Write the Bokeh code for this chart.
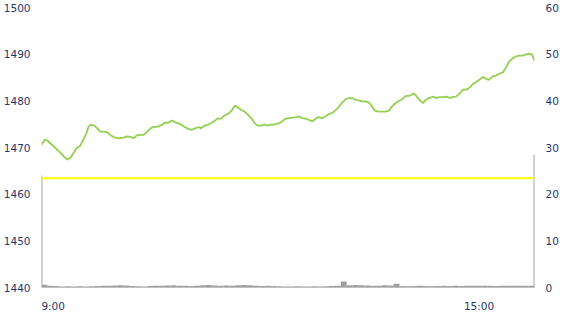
from bokeh.plotting import figure
from bokeh.models import Range1d, LinearAxis, FixedTicker, Span
from bokeh.embed import file_html
from bokeh.resources import INLINE

# ---- data (minutes after 9:00) ----
price_minutes = [
    0, 3, 5, 8, 11, 14, 17, 19, 22, 25, 27, 30, 33, 36, 38, 40, 42, 45, 48, 50, 53, 56, 59, 62, 64, 67, 70, 73, 76, 79, 81, 84, 87, 90, 93, 95, 98, 101,
    103, 105, 108, 111, 114, 117, 119, 122, 125, 128, 131, 134, 136, 139, 142, 145, 148, 150, 153, 156, 159, 162, 165, 167, 170, 173, 176, 179, 181, 184, 187, 190, 193, 195, 198, 201, 204, 208,
    211, 214, 217, 219, 222, 225, 228, 231, 234, 236, 239, 242, 245, 248, 250, 253, 256, 259, 262, 265, 267, 270, 273, 276, 279, 281, 284, 287, 290, 293, 296, 298, 301, 304, 307, 310,
    314, 317, 319, 322, 325, 327, 330, 334, 336, 339, 342, 345, 348, 350, 353, 356, 359, 362, 365, 367, 370, 373, 376, 379, 381, 384, 387, 390, 393, 396, 398, 401, 404, 407, 410, 412, 415, 418, 420,
]
prices = [
    1470.6, 1471.7, 1471.5, 1470.8, 1470.1, 1469.4, 1468.7, 1468.1, 1467.4, 1467.9, 1468.7, 1469.9, 1470.4, 1471.9, 1472.9, 1474.4, 1474.9, 1474.7, 1474.0, 1473.4,
    1473.4, 1473.3, 1472.6, 1472.2, 1472.0, 1472.0, 1472.1, 1472.4, 1472.2, 1472.0, 1472.6, 1472.7, 1472.7, 1473.4, 1474.1, 1474.4, 1474.4, 1474.7,
    1474.9, 1475.3, 1475.3, 1475.8, 1475.4, 1475.1, 1474.9, 1474.4, 1474.0, 1473.8, 1474.1, 1474.4, 1474.1, 1474.7, 1474.9, 1475.3, 1475.8, 1476.2, 1476.2, 1476.9,
    1477.2, 1477.9, 1479.0, 1478.6, 1478.1, 1477.7, 1477.0, 1476.2, 1475.4, 1474.7, 1474.7, 1474.9, 1474.7, 1474.9, 1474.9, 1475.1, 1475.4, 1476.2,
    1476.3, 1476.4, 1476.5, 1476.7, 1476.3, 1476.2, 1475.9, 1475.6, 1476.3, 1476.5, 1476.3, 1476.7, 1477.2, 1477.4, 1477.9, 1478.6, 1479.6, 1480.3, 1480.6, 1480.6,
    1480.2, 1480.1, 1479.9, 1479.9, 1479.6, 1479.0, 1477.9, 1477.7, 1477.7, 1477.7, 1477.9, 1478.6, 1479.4, 1479.9, 1480.3, 1481.0,
    1481.1, 1481.6, 1481.1, 1480.2, 1479.5, 1480.1, 1480.6, 1480.9, 1480.6, 1480.8, 1480.8, 1480.9, 1480.6, 1480.8, 1480.9, 1481.5, 1482.4, 1482.4, 1482.9, 1483.5,
    1484.0, 1484.5, 1485.1, 1484.7, 1484.5, 1485.2, 1485.4, 1485.8, 1486.1, 1487.2, 1488.3, 1489.0, 1489.5, 1489.7, 1489.7, 1489.9, 1490.1, 1489.9, 1488.6,
]

volume_step = 5  # minutes per volume bar
volumes = [
    0.6, 0.35, 0.3, 0.2, 0.25, 0.2, 0.25, 0.2, 0.25, 0.3,
    0.35, 0.4, 0.45, 0.5, 0.45, 0.3, 0.25, 0.2, 0.3, 0.35,
    0.4, 0.45, 0.5, 0.4, 0.35, 0.3, 0.35, 0.5, 0.55, 0.45,
    0.4, 0.45, 0.4, 0.5, 0.55, 0.5, 0.35, 0.3, 0.35, 0.3,
    0.25, 0.2, 0.2, 0.25, 0.2, 0.2, 0.25, 0.2, 0.25, 0.3,
    0.4, 1.3, 0.5, 0.55, 0.5, 0.45, 0.35, 0.4, 0.5, 0.45,
    0.8, 0.3, 0.25, 0.3, 0.35, 0.3, 0.25, 0.3, 0.35, 0.3,
    0.35, 0.3, 0.35, 0.4, 0.35, 0.4, 0.35, 0.3, 0.35, 0.4,
    0.35, 0.4, 0.35, 0.4,
]
volume_minutes = [i * volume_step + volume_step / 2 for i in range(len(volumes))]

ref_price = 1463.4          # yellow reference line
price_panel_floor = 1464.0  # top of left volume-panel border
vol_panel_top = 28.5        # top of right volume-panel border

x_tick_labels = ["9:00", "15:00"]
session_minutes = 420
price_ticks = [1440, 1450, 1460, 1470, 1480, 1490, 1500]
vol_ticks = [0, 10, 20, 30, 40, 50, 60]


def to_minutes(label):
    h, m = label.split(":")
    return (int(h) - 9) * 60 + int(m)


FONT = "DejaVu Sans"
TXT = "#1f3868"
FS = "10.5px"

PLOT_W = 570
BORDER_L = 37
BORDER_R = 36
frame_w = PLOT_W - BORDER_L - BORDER_R
px_per_min = frame_w / session_minutes


def half_label_px(label):
    # approximate DejaVu Sans advance widths at 10.5px (digits 0.636em, colon 0.337em)
    w = sum(0.337 if c == ":" else 0.636 for c in label) * 10.5
    return w / 2


# labels are left-aligned at their time: centre each label half its width to the right
x_ticks = [to_minutes(t) + half_label_px(t) / px_per_min for t in x_tick_labels]

p = figure(width=PLOT_W, height=330, output_backend="svg", toolbar_location=None,
           x_range=Range1d(0, session_minutes), y_range=Range1d(1440, 1500),
           min_border_left=BORDER_L, min_border_right=BORDER_R, min_border_top=7, min_border_bottom=43)
p.extra_y_ranges = {"vol": Range1d(0, 60)}
p.outline_line_color = None
p.grid.grid_line_color = None
p.background_fill_color = "white"
p.border_fill_color = "white"

# volume bars
p.vbar(x=volume_minutes, top=volumes, bottom=0, width=volume_step, y_range_name="vol",
       fill_color="#a0a0a0", line_color=None)

# reference line
p.add_layout(Span(location=ref_price, dimension="width", line_color="#ffff00", line_width=2))

# panel borders of the volume section
p.segment(x0=[0], y0=[1440], x1=[0], y1=[price_panel_floor], line_color="#a6a6a6", line_width=2)
p.segment(x0=[session_minutes], y0=[0], x1=[session_minutes], y1=[vol_panel_top],
          y_range_name="vol", line_color="#a6a6a6", line_width=2)

# price line
p.line(price_minutes, prices, line_color="#92d050", line_width=1.8)

# axes
def style_axis(ax, standoff):
    ax.axis_line_color = None
    ax.major_tick_line_color = None
    ax.minor_tick_line_color = None
    ax.major_tick_out = 0
    ax.major_tick_in = 0
    ax.major_label_standoff = standoff
    ax.major_label_text_font = FONT
    ax.major_label_text_font_size = FS
    ax.major_label_text_color = TXT

yl = p.yaxis[0]
yl.ticker = FixedTicker(ticks=price_ticks)
style_axis(yl, 11)

yr = LinearAxis(y_range_name="vol", ticker=FixedTicker(ticks=vol_ticks))
style_axis(yr, 11)
p.add_layout(yr, "right")

xa = p.xaxis[0]
xa.ticker = FixedTicker(ticks=x_ticks)
xa.major_label_overrides = {t: l for t, l in zip(x_ticks, x_tick_labels)}
style_axis(xa, 12)
xa.axis_line_color = "#c0c0c0"
xa.axis_line_width = 1

open("out.html", "w").write(file_html(p, INLINE))
